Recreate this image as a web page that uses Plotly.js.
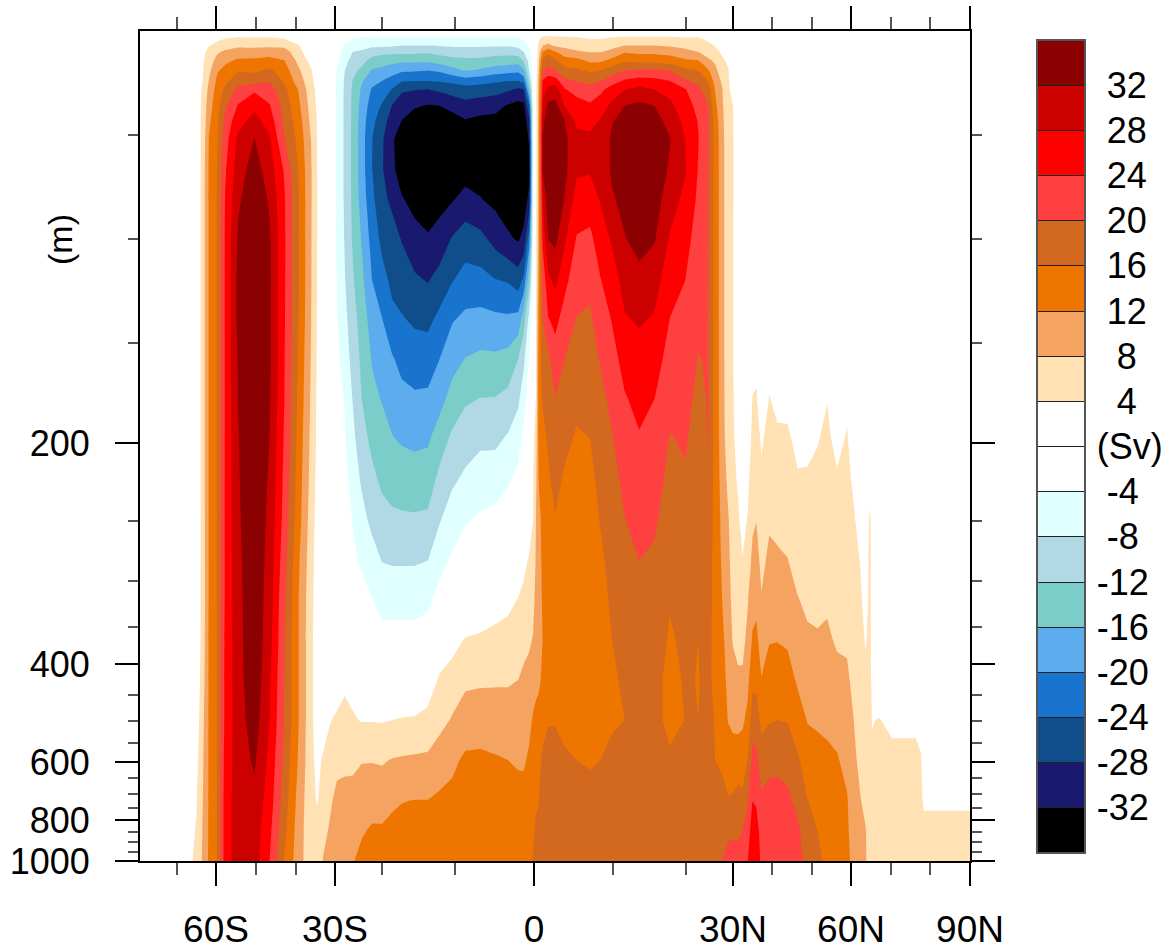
<!DOCTYPE html>
<html><head><meta charset="utf-8">
<script src="https://cdn.plot.ly/plotly-3.0.1.min.js"></script>
<style>html,body{margin:0;padding:0;background:#fff}</style></head>
<body><div id="chart" style="width:1173px;height:949px"></div>
<script>
// Non-linear axis scales of the original figure: value -> axis position
const latKnots=[-79.3,-70,-60,-50,-40,-30,-20,-10,0,10,20,30,40,50,60,70,80,90];
const latPos=[140,177,216,256,296,335,382,455,534,613,686,733,772,812,851,891,930,970];
const depthKnots=[0,50,100,150,200,250,300,350,400,450,500,550,600,650,700,750,800,850,900,950,1000];
const depthPos=[31,135,239,343,443,521,581,627,664,695,721,743,762,778,794,808,820,832,842,852,861];
function scale(kn,pos,v){for(let i=1;i<kn.length;i++){if(v<=kn[i]){return pos[i-1]+(v-kn[i-1])/(kn[i]-kn[i-1])*(pos[i]-pos[i-1]);}}return pos[pos.length-1];}
const xs=v=>scale(latKnots,latPos,v), ys=v=>scale(depthKnots,depthPos,v);

const xMajor=[-60,-30,0,30,60,90];
const xLabels=['60S','30S','0','30N','60N','90N'];
const xMinor=[-70,-50,-40,-20,-10,10,20,40,50,70,80];
const yMajor=[200,400,600,800,1000];
const yMinor=[50,100,150,250,300,350,450,500,550,650,700,750,850,900,950];
const levels=[32,28,24,20,16,12,8,4,0,-4,-8,-12,-16,-20,-24,-28,-32];
const levelText=['\u200A\u00A032','\u200A\u00A028','\u200A\u00A024','\u200A\u00A020','\u200A\u00A016','\u200A\u00A012','\u200A\u00A0\u00A08','\u200A\u00A0\u00A04','\u200A(Sv)','\u200A\u00A0-4','\u200A\u00A0-8','\u200A-12','\u200A-16','\u200A-20','\u200A-24','\u200A-28','\u200A-32'];
const bandColors=['#000000','#191970','#104E8B','#1874CD','#5CACEE','#7ACDC8','#B0D8E5','#E0FFFF','#FFFFFF','#FFFFFF','#FFE1B4','#F4A460','#EE7600','#D2691E','#FF4040','#FF0000','#CD0000','#8B0000'];

const depths=[0,3,7,10,14,19,24,28,36,43,52,67,81,100,120,139,158,178,198,224,249,283,321,368,426,498,595,725,842,1000];
const lats=[-79.3,-65,-63.8,-62.8,-61.8,-59.7,-57.7,-54.5,-50.4,-46.6,-42.9,-39.3,-36.1,-34.6,-33,-31.3,
-29.6,-27.9,-26.2,-24.3,-22.1,-20,-18.6,-17.3,-15.5,-13.7,-12.1,-10.4,-8.7,-6.8,-4.9,-3.3,-2,-1.3,-0.6,-0.1,
0.25,0.6,1.1,1.8,2.7,3.9,5.4,7.1,8.4,9.9,11.6,13.6,15.7,17.8,19.9,22.6,24.7,26.2,27.7,29,30,
31.3,32.5,33.8,35,36,37.3,39.3,41.3,43.9,46.4,48.9,51.4,53.9,56.4,59,60.8,62.3,63.6,64.6,65.3,67,70.3,76.4,77.7,78.4,90];

// Overturning stream function (Sv): one profile per latitude, one value per depth
const sv=[
[0,0,0,0,0,0,0,0,0,0, 0,0,0,0,0,0,0,0,0,0, 0,0,0,0,0,0,0,0,0,0],
[0,0,0,0,0,1,1,1,1,1, 1,1,1,1,1,1,1,1,1,1, 1,1,1,1,1,2,3,3.9,4.1,4.3],
[0,0,0,0,1,2,3,3.8,4.2,4.4, 4.4,4.4,4.4,4.4,4.4,4.4,4.4,4.4,4.4,4.4, 4.4,4.4,4.5,4.5,5,5.5,6,6.5,7,7.5],
[0,0,2,3.8,4.8,5.5,6,6.3,6.8,7.3, 7.9,8.2,8.3,8.3,8.3,8.3,8.3,8.3,8.3,8.3, 8.2,8.1,8,8.2,8.5,9,9.5,10,10.3,10.5],
[0,1,3.8,5,6,7,8.2,9,10.3,11.2, 12.2,12.4,12.4,12.4,12.4,12.4,12.4,12.4,12.4,12.4, 12.4,12.4,12.4,12.4,12.4,12.4,12.4,12.4,12.4,12.5],
[0,3,5,7.4,9.2,11.6,12.8,13.6,14.4,15, 15.6,16.2,16.2,16.2,16.2,16.2,16.2,16.2,16.2,16.2, 16.2,16.2,16.2,16.2,16.2,16.2,16.2,16.2,16.2,16.2],
[0,3.6,6.2,8.7,11.2,13,15,16.8,19.4,21, 22.3,23.5,24.2,24.5,24.5,24.5,24.5,24.5,24.5,24.5, 24.5,24.5,24.5,24.8,25,25,25.5,26,26,26],
[0,4,7.2,9.8,12.4,15.6,18.2,21,24.3,26.6, 28.8,30,31.3,32.5,33,33,32.3,32,31.8,31.6, 31.4,31,30.8,30.6,30.4,30.2,30,30,30,30],
[0,4,7,9.8,12.6,15.3,18.5,23.3,26.8,29.4, 32.1,34,35,35,35,35,35,35,35,35, 35,35,35,35,35,34,32.6,31,30,30],
[0,4,7.2,10,13.2,16.8,19.6,22,24.3,26.2, 28.5,30,31.5,32.6,32.8,32.8,32.7,32.5,32,31.5, 31,30.5,30,29.5,28.5,28,27,26,25,24],
[0,3.4,7,9.8,12,13.8,15.4,17,18.4,19, 20.2,23.6,24.4,24.6,24.5,24.4,24.2,24,23.5,23, 22.5,21.5,20.6,20.2,20,19.8,19,18,17,15.6],
[0,2,4.2,5.4,6.8,8.6,10,11.7,12.8,13.8, 14.8,15.8,16.2,16.2,16.2,16,15.5,15,14.5,14, 13.5,12.5,12,12,12,12,11.5,10.5,10,9.8],
[0,0,0,1,2.5,4.4,5.2,5.6,6.4,7, 7.9,8.3,8.3,8.2,8.2,8,7.7,7.4,7,6.6, 6,5.6,5.2,5,5,5,5,5,5,5],
[0,0,0,0,0,1,2,3,3.5,3.8, 4,4.1,4.1,4.1,4,3.9,3.7,3.5,3.3,3, 2.5,2.2,2,2,2,2,3,3.8,5,6.5],
[0,0,0,0,0,0,0,0,0,0, 0,0,0,0,0,0,0,0,0,0, 0,0,0,0,1,2,4.5,5,7,8.2],
[0,0,0,0,0,0,0,0,0,0, 0,0,0,0,0,0,0,0,0,0, 0,0,0,0,2,3.8,5.4,7.4,8.4,9],
[0,0,-1,-2,-3,-4.2,-4.6,-4.7,-4.7,-4.7, -4.7,-4.7,-4.7,-4.5,-4.1,-3.7,-3,-2,-1,0, 0,0,0,0,2,4.6,7,9,9.6,10],
[0,-1,-4.5,-5.6,-6.5,-8,-8.5,-8.6,-8.7,-8.7, -8.7,-8.7,-8.6,-8.3,-7.8,-6.8,-5.8,-4.3,-3.7,-2.5, -1.5,-1,0,1,3,5.5,7.2,9.2,10,10.8],
[0,-3.5,-6,-8,-9.6,-11,-12.2,-12.6,-12.8,-12.9, -13,-13,-12.9,-12.5,-11.5,-10.5,-9.5,-8.2,-7,-5.8, -4.3,-3,-1,1,3,4.3,7.2,9.3,10.4,11.8],
[0,-4,-6.5,-8.5,-10.8,-12.8,-15.5,-16.6,-17.4,-18, -18.2,-18.2,-17.6,-16.3,-15,-13.6,-12.8,-12,-10.5,-8.5, -6.8,-4.8,-2,0,2,3.8,7.8,10,11.6,13],
[0,-4.3,-7,-10.5,-13,-16.4,-18.8,-20.4,-22,-23, -23.9,-23.9,-23,-21.5,-20,-18,-16.3,-15,-13,-11, -9,-6.4,-3.8,-1,1,3.8,7.8,10.6,12.4,14],
[0,-4.2,-7.2,-10.8,-14,-17,-20,-21.8,-24.4,-26, -27.4,-27.6,-27,-25,-22.6,-19.8,-18,-16.2,-14.4,-12.7, -10.6,-8.1,-5.5,-2.5,-0.5,3.7,7.6,10.5,12.4,14],
[0,-4.3,-7.5,-11,-14.5,-18.5,-21.5,-24.2,-28.2,-30, -31.5,-31,-28.8,-26.4,-24.9,-23,-19.6,-17.6,-15.8,-13.6, -11.2,-8.4,-5.4,-2.5,-0.5,4,8.2,11.5,12.8,14],
[0,-4.3,-8,-11,-15,-19.4,-23.8,-27.4,-30,-32, -34,-34,-31.6,-28.2,-26,-23.6,-21.2,-18.8,-16.4,-14, -11.4,-8.4,-5.4,-2.5,-0.5,4.3,8.4,11.9,13,14],
[0,-4.3,-8,-11,-15,-19.6,-24,-27.8,-31.6,-34, -35,-35,-33.5,-30.4,-27.4,-24.6,-22,-19.4,-16.8,-14.2, -11.5,-8.4,-5.4,-2.5,-0.5,4.5,8.6,12.1,13,14],
[0,-4.3,-8,-11.3,-15,-20,-24,-28,-32.3,-34, -35,-35,-34.5,-31.5,-28.2,-25,-21.8,-19.3,-16.5,-14, -11.3,-8,-4.8,-2,2,5,8.8,12.1,13,14],
[0,-4,-7.8,-10.5,-14,-19.4,-23.6,-27.2,-32,-34, -35,-35,-33.5,-30.2,-26.6,-22.8,-20,-17.3,-14,-10.8, -8.3,-5.5,-2.5,1.5,4.5,6.8,10,12.7,13.5,14],
[0,-4,-7.4,-10,-13,-17.4,-23,-26.4,-30.5,-34, -35,-34.5,-32.3,-27.7,-24.2,-20.3,-17.4,-14.6,-11.2,-8.6, -6,-3.4,-1,2.5,5.8,8.3,11.2,13,13.6,14],
[0,-4,-7.4,-10,-12.6,-15.8,-21.8,-25.6,-29.4,-32.2, -34,-33.5,-30.8,-25.8,-22.6,-19,-15.9,-12.5,-9.8,-7.2, -4.3,-2.5,0,4.3,7.2,10,12.6,14,14,14],
[0,-4,-7.4,-10,-12.8,-16.6,-22.4,-26,-30,-33, -34.4,-33.6,-31.8,-26.8,-22.6,-18.7,-15.2,-11.9,-8.8,-6, -3.5,-1.5,1,4.7,7.5,10,12.8,14,14,14.5],
[0,-4,-7.5,-10.5,-13.5,-18,-23.4,-26.4,-30.8,-33, -34,-34,-33,-29.4,-23.8,-19,-15.3,-11.8,-8.8,-5.8, -2.8,-1,2.5,5,7.5,10.2,12.3,14,14.6,15],
[0,-4,-7.5,-10.6,-13.8,-18.6,-24,-27.4,-32.4,-34, -35,-35,-34,-31.4,-24.3,-19.2,-14.7,-10.9,-7.5,-4.4, -2,0,3,5.5,7.6,9.8,12,13.5,14.6,15],
[0,-4,-7,-10,-14,-19,-24,-28.5,-33.5,-35, -35,-35,-34,-32.4,-26,-18.5,-12,-8.8,-5.4,-3, -1,1,4.2,6,8,10,11.5,13.5,14.5,15],
[0,-3,-5.5,-8,-11.5,-16.6,-22.5,-28,-33,-35, -35,-35,-34,-31,-23,-13.5,-9,-5.5,-3,-1.5, 0,3,5,6.8,8.8,10.6,11.5,13.4,14.3,15],
[0,-1,-3.5,-5,-6.5,-7.8,-11,-15,-24.5,-28.8, -31.5,-33,-31,-22,-13,-6.5,-3.4,-2,-1,0, 2,4.4,6,7.6,9,11,12.6,14,14.8,15.5],
[0,0,0,-1,-2,-3,-3.5,-3.5,-3.5,-3.5, -3.5,-3.5,-3.5,-3,-2,-1,-0.5,2,3.3,3.8, 4,5,7.2,8.2,10,12.5,14,15,15.7,16.2],
[0,1,1,1,1.5,2,2.5,3,3,3, 3,3,3,3,3,3.5,3.7,4,5.5,7, 8,8.5,9,10,11,13,14.5,15.7,16.3,17],
[0,3,5,6,7,8,9,9,9.5,10, 10,10,10,10.5,11.5,12.5,13,13.5,13,12, 11,10,10,10.5,11.5,13,14.5,15.9,17,18],
[0,4.5,8,12.2,16.5,19.6,24.5,26.5,28.3,31, 32.2,32.2,28,25,21,20,18,16.3,15,14, 13,13,12.5,12,12.5,14,17,17.5,18,18],
[0,5,9,15,18,22,26,29,33,34, 35,35,34.5,32,27,23.7,19,17.6,16.4,15.5, 14,13.5,13.2,13,14,15.8,17,17.5,18,18],
[0,4.5,7.2,12.3,16.6,20,26,30,33.5,34.5, 35,35,34.5,33,29,25,22.3,19.9,18.4,17, 15.8,14.5,14,13.8,14.5,15.9,16.5,17.5,18,18],
[0,4.4,7,9.5,13.7,17,21,24.2,28,32, 33,33,31.8,28.6,25,22.4,20,18,16.8,15.5, 14.5,14,13.6,13.4,13.6,14.5,16.8,17.5,18,18],
[0,4,6.2,8.5,13,16.6,20,22.6,25.6,27.2, 29,28.6,26.4,23.7,21.8,19.8,18,16.8,15.6,14.8, 14.5,14,13.8,13.6,13.5,13.4,16,17.5,18,18],
[0,3.5,6,7.8,11,15.5,18.6,21.6,24.6,26.6, 29,28.4,25.8,23.2,20.8,19.5,18.2,17,16,15, 14.4,14,13.7,13.5,13.3,13.2,15.6,17.3,18,18],
[0,3.5,6,7.8,11,16,20,23,26.2,28.2, 29.5,29.4,28.3,25.8,23.8,21.8,20.3,18.9,18,17, 16.2,15.4,15,14.6,14.4,14.2,16,17,18,18],
[0,4,6.8,9,13,18,22.5,25.6,29,31.8, 32.6,32.6,31.6,28.6,26,24.2,22.8,21,19.8,18.5, 17.6,17,16.5,16,15,15.5,17,17.5,18,18],
[0,4.4,8,11.6,15.2,20,24.5,27.8,32,33, 34,34,33,31.8,29.5,27.6,25.2,23.7,22,21, 19.9,18.7,18,17.5,17,16,17,17.5,18,18],
[0,4.4,8,11,14.6,20.6,25.6,29,33,34.5, 35,35,34.8,33.2,31,28.4,26.6,25,23.7,22.8, 21.4,20,19,18.5,18,17.5,17.5,18,18,18],
[0,4.4,8,11,14.4,21,25,28,32,33.4, 34.5,34.5,33.8,32.3,29.5,27.6,25.8,24,23,21.8, 20.6,19.4,19,18.5,18,17.5,17.5,18,18,18],
[0,4.4,7.5,10.6,13.8,20,24,26.5,29,30.7, 32.2,31.5,29.8,27.6,25.7,23.9,22.4,21,19.8,18.8, 17.8,17,16.4,15.4,14.2,14.6,16.8,17.5,18,18],
[0,4,7,9,12.4,17,20.6,24.2,25.6,26.8, 28,28.3,27,25.6,24,23,22,21.2,20.4,19.6, 18.8,18.2,17.6,17,16.6,16.1,17,17.5,18,18],
[0,4,6,8,12,16,18.8,21,23,23.8, 24.2,23.8,23.3,22,21,20.6,19.9,19,18.6,18.2, 17.6,17,16.6,16,15.8,16,17,17.5,18,18],
[0,3,5,6.6,8.5,12.5,16,18,20.2,20.6, 20.6,20.6,20.4,20.3,20.3,20.2,20.2,20.2,20.1,19.8, 18.7,18,17.6,17.4,17.2,17.1,17,17.5,18,18.8],
[0,1,3.8,5.6,7.4,9,10.5,11.8,13,14.4, 14.6,14.6,14.6,14.6,14.6,14.6,14.6,14.6,14.6,14.6, 14.6,14.6,14.6,14.6,14.7,15.8,16,16.5,17.5,18.6],
[0,0,1,3,4.8,6,7.3,8.2,8.6,9, 9.5,9.5,9.5,9.5,9.5,9.6,9.7,9.8,10,10.5, 11,11.5,12,13,13.5,14,15.5,17,19,20],
[0,0,0,0,3,4.3,4.8,5,5,5, 5,5,5,5,5,5,5,5,5.5,7, 8.3,9,9.3,10,11,11.8,14,16.3,19.5,21],
[0,0,0,0,0,0,1,2,4,4.3, 4.5,4.5,4.5,4.4,4.2,4.2,4.3,4.5,4.8,5, 5.6,6,7,7.7,9.6,11.2,13.6,16.6,19,22],
[0,0,0,0,0,0,0,0,0,0, 0,0,0,0,0,0,0,1,2,3.6, 4.6,5.4,6,7,8.6,10.6,14.5,17,19,22],
[0,0,0,0,0,0,0,0,0,0, 0,0,0,0,0,0,0,0,0,1, 2.5,4.2,5.2,7,8.6,11.4,14,17,20,23],
[0,0,0,0,0,0,0,0,0,0, 0,0,0,0,0,0,0,0,1,3, 4.3,6,7.8,9,11,13,16.2,19.6,22,24],
[0,0,0,0,0,0,0,0,0,0, 0,0,0,0,0,0,2,4.2,5.3,6.3, 7.4,8.8,10.5,12.5,15,18.2,21.2,24,26,27],
[0,0,0,0,0,0,0,0,0,0, 0,0,0,0,0,0,3,4.4,5.5,6.6, 7.9,9.4,11,13,15,18,21,23.4,26,27],
[0,0,0,0,0,0,0,0,0,0, 0,0,0,0,0,0,0,1,3.5,4.8, 5.8,7,8.3,10,12.2,15,17.8,20.8,22,23],
[0,0,0,0,0,0,0,0,0,0, 0,0,0,0,0,0,2,4.2,5.2,6.2, 7.5,8.8,10,11.8,13.8,15.7,18.8,21.5,22.5,23],
[0,0,0,0,0,0,0,0,0,0, 0,0,0,0,0,0,1,3,4.7,5.8, 7,8.6,10,11.9,14,16,19,21.5,22.5,23],
[0,0,0,0,0,0,0,0,0,0, 0,0,0,0,0,0,1,3,4.6,5.6, 6.8,8.1,9.8,11.5,13.6,15.8,18.7,20.8,22,23],
[0,0,0,0,0,0,0,0,0,0, 0,0,0,0,0,0,0,1,3,4.4, 5.4,6.7,8.2,9.8,11.5,13.8,16.6,19,20.8,21.5],
[0,0,0,0,0,0,0,0,0,0, 0,0,0,0,0,0,0,1,3,4.5, 5.4,6.3,7.3,8.6,10.2,11.8,13.8,16.1,17.6,18.5],
[0,0,0,0,0,0,0,0,0,0, 0,0,0,0,0,0,0,2,3.8,4.8, 5.6,6.3,7.3,8.3,10,11.6,13,15,16,17],
[0,0,0,0,0,0,0,0,0,0, 0,0,0,0,0,0,2,3.9,4.7,5.4, 6,6.8,7.5,8.6,10,11.2,12.8,13.8,14.6,15],
[0,0,0,0,0,0,0,0,0,0, 0,0,0,0,0,0,0,1,3,4.4, 5,5.8,6.6,7.6,9,10.8,12.3,13,13.6,14],
[0,0,0,0,0,0,0,0,0,0, 0,0,0,0,0,0,2,3.4,4.3,4.8, 5.4,6,6.8,7.5,8.6,10,11,12.3,12.6,13],
[0,0,0,0,0,0,0,0,0,0, 0,0,0,0,0,0,0,0,2,3.4, 4.3,5,5.6,6.2,7,7.9,8.6,9.5,10,10.6],
[0,0,0,0,0,0,0,0,0,0, 0,0,0,0,0,0,0,0,0,1, 2.5,3.9,4.5,5.2,5.8,6.5,7.2,8.2,9,9.5],
[0,0,0,0,0,0,0,0,0,0, 0,0,0,0,0,0,0,0,0,0, 0,2,3,3.8,4.6,5.4,6.2,7.2,8.2,8.3],
[0,0,0,0,0,0,0,0,0,0, 0,0,0,0,0,0,0,0,0,3, 4.4,4.6,4.5,4.4,4.5,5,5.5,6,7,7],
[0,0,0,0,0,0,0,0,0,0, 0,0,0,0,0,0,0,0,0,0, 3.5,3.5,3.5,3.6,3.7,3.9,4.4,5,5.5,6],
[0,0,0,0,0,0,0,0,0,0, 0,0,0,0,0,0,0,0,0,0, 0,0,0,0,2,4.1,4.8,5,5,5.5],
[0,0,0,0,0,0,0,0,0,0, 0,0,0,0,0,0,0,0,0,0, 0,0,0,0,1,3.5,4.6,5,5,5],
[0,0,0,0,0,0,0,0,0,0, 0,0,0,0,0,0,0,0,0,0, 0,0,0,0,1,3.5,4.6,5,5,5],
[0,0,0,0,0,0,0,0,0,0, 0,0,0,0,0,0,0,0,0,0, 0,0,0,0,0,2,4.4,4.6,5,5],
[0,0,0,0,0,0,0,0,0,0, 0,0,0,0,0,0,0,0,0,0, 0,0,0,0,0,0,1,3.6,4.8,5],
[0,0,0,0,0,0,0,0,0,0, 0,0,0,0,0,0,0,0,0,0, 0,0,0,0,0,0,1,3.6,4.8,5]
];

const fontFamily='"Liberation Sans",Arial,sans-serif';
const font={family:fontFamily,size:36,color:'#000'};
const colorscale=bandColors.map((c,i)=>[i/(bandColors.length-1),c]);

const trace={type:'contour',x:lats.map(xs),y:depths.map(ys),z:sv,transpose:true,
  hoverinfo:'skip',colorscale,zmin:-36,zmax:36,zauto:false,autocontour:false,
  contours:{start:-32,end:32,size:4,coloring:'fill',showlines:false},
  line:{width:0,smoothing:0},
  colorbar:{x:(1037-140)/830,xanchor:'left',xpad:0,y:(861-853)/830,yanchor:'bottom',ypad:0,
    lenmode:'pixels',len:813,thicknessmode:'pixels',thickness:48,
    outlinecolor:'#555',outlinewidth:2,borderwidth:0,
    tickmode:'array',tickvals:levels,ticktext:levelText,ticks:'inside',ticklen:48,tickwidth:1,tickcolor:'#222',
    tickfont:font,ticklabelposition:'outside'}
};
const axisCommon={showgrid:false,zeroline:false,showline:true,linecolor:'#000',linewidth:2,mirror:'ticks',
  ticks:'outside',tickcolor:'#000',tickwidth:2,ticklen:23,tickangle:0,tickmode:'array'};
const layout={width:1173,height:949,paper_bgcolor:'#fff',plot_bgcolor:'#fff',font,showlegend:false,
  margin:{l:140,r:203,t:31,b:88,pad:0,autoexpand:false},
  xaxis:{...axisCommon,tickfont:{family:fontFamily,size:37,color:'#000'},range:[xs(-79.3),xs(90)],tickvals:xMajor.map(xs),ticktext:xLabels,ticklabelstandoff:12,
    minor:{ticks:'outside',tickmode:'array',tickvals:xMinor.map(xs),ticklen:12,tickwidth:2,tickcolor:'#555'}},
  yaxis:{...axisCommon,tickfont:font,range:[ys(1000),ys(0)],tickvals:yMajor.map(ys),ticktext:yMajor.map(String),ticklabelstandoff:18,
    minor:{ticks:'outside',tickmode:'array',tickvals:yMinor.map(ys),ticklen:10,tickwidth:2,tickcolor:'#555'}},
  annotations:[{text:'(m)',xref:'paper',yref:'paper',x:(60-140)/830,y:(861-240)/830,xanchor:'center',yanchor:'middle',
    textangle:-90,showarrow:false,font:{family:fontFamily,size:34,color:'#000'}}]
};
Plotly.newPlot('chart',[trace],layout,{displayModeBar:false,staticPlot:true});
</script></body></html>
